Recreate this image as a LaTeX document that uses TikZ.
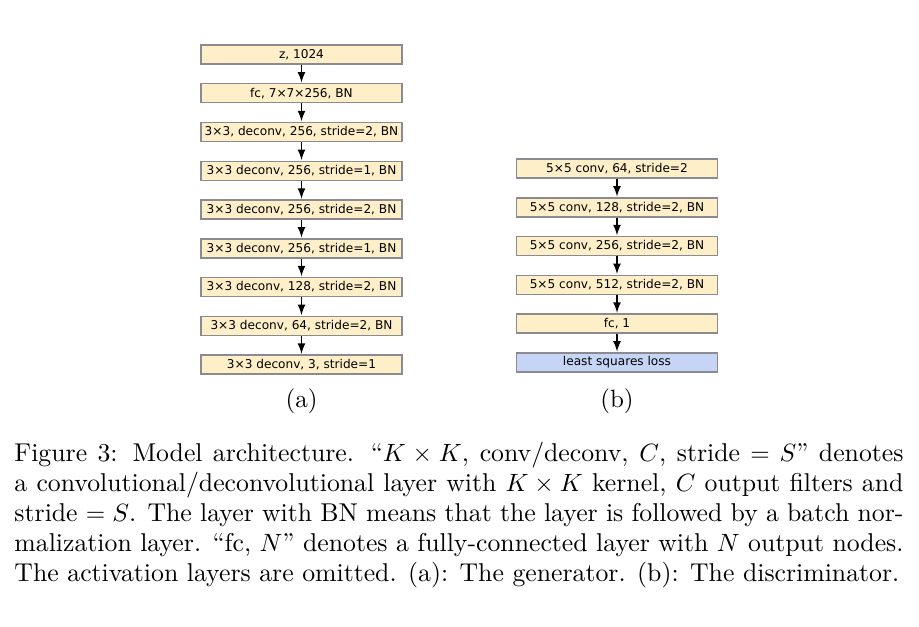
\documentclass[tikz,border=0pt]{standalone}
\usepackage{amsmath,amssymb}
\usepackage{fontspec}
\usepackage{xcolor}
\usepackage{tikz}
\usetikzlibrary{arrows,positioning}
\newfontfamily\boxfont{DejaVu Sans}
\definecolor{layerfill}{RGB}{255,239,200}
\definecolor{lossfill}{RGB}{198,212,245}
\definecolor{layerline}{RGB}{140,138,145}

\begin{document}
\begin{tikzpicture}[x=0.4pt,y=-0.4pt,
    layer/.style={draw=layerline,fill=layerfill,line width=0.6pt,minimum width=80.4pt,minimum height=7.6pt,inner sep=0pt,font=\boxfont\fontsize{4.85}{5.5}\selectfont},
    loss/.style={layer,fill=lossfill},
    flow/.style={->,>=latex,line width=0.45pt,shorten >=0.2pt},
    node distance=7.3pt]
    \useasboundingbox (0,0) rectangle (919,626);

    % Generator (a)
    \node[layer] (g1) at (301.5,54.5) {z, 1024};
    \node[layer,below=of g1] (g2) {fc, 7×7×256, BN};
    \node[layer,below=of g2] (g3) {3×3, deconv, 256, stride=2, BN};
    \node[layer,below=of g3] (g4) {3×3 deconv, 256, stride=1, BN};
    \node[layer,below=of g4] (g5) {3×3 deconv, 256, stride=2, BN};
    \node[layer,below=of g5] (g6) {3×3 deconv, 256, stride=1, BN};
    \node[layer,below=of g6] (g7) {3×3 deconv, 128, stride=2, BN};
    \node[layer,below=of g7] (g8) {3×3 deconv, 64, stride=2, BN};
    \node[layer,below=of g8] (g9) {3×3 deconv, 3, stride=1};
    \foreach \a/\b in {1/2,2/3,3/4,4/5,5/6,6/7,7/8,8/9}
        \draw[flow] (g\a) -- (g\b);

    % Discriminator (b)
    \node[layer] (d1) at (617,168.5) {5×5 conv, 64, stride=2};
    \node[layer,below=of d1] (d2) {5×5 conv, 128, stride=2, BN};
    \node[layer,below=of d2] (d3) {5×5 conv, 256, stride=2, BN};
    \node[layer,below=of d3] (d4) {5×5 conv, 512, stride=2, BN};
    \node[layer,below=of d4] (d5) {fc, 1};
    \node[loss,below=of d5] (d6) {least squares loss};
    \foreach \a/\b in {1/2,2/3,3/4,4/5,5/6}
        \draw[flow] (d\a) -- (d\b);

    % Sub-captions
    \node (suba) at (301.5,401) {(a)};
    \node (subb) at (617,401) {(b)};

    % Figure caption
    \node[anchor=north west,inner sep=0pt,text width=355.6pt,align=justify,font=\fontsize{10.3}{12}\selectfont] (caption) at (14,442)
    {Figure 3: Model architecture. ``$K \times K$, conv/deconv, $C$, stride $= S$'' denotes\linebreak
    a convolutional/deconvolutional layer with $K \times K$ kernel, $C$ output filters and\linebreak
    stride $= S$. The layer with BN means that the layer is followed by a batch nor-\linebreak
    malization layer. ``fc, $N$'' denotes a fully-connected layer with $N$ output nodes.\linebreak
    The activation layers are omitted. (a): The generator. (b): The discriminator.};
\end{tikzpicture}
\end{document}
